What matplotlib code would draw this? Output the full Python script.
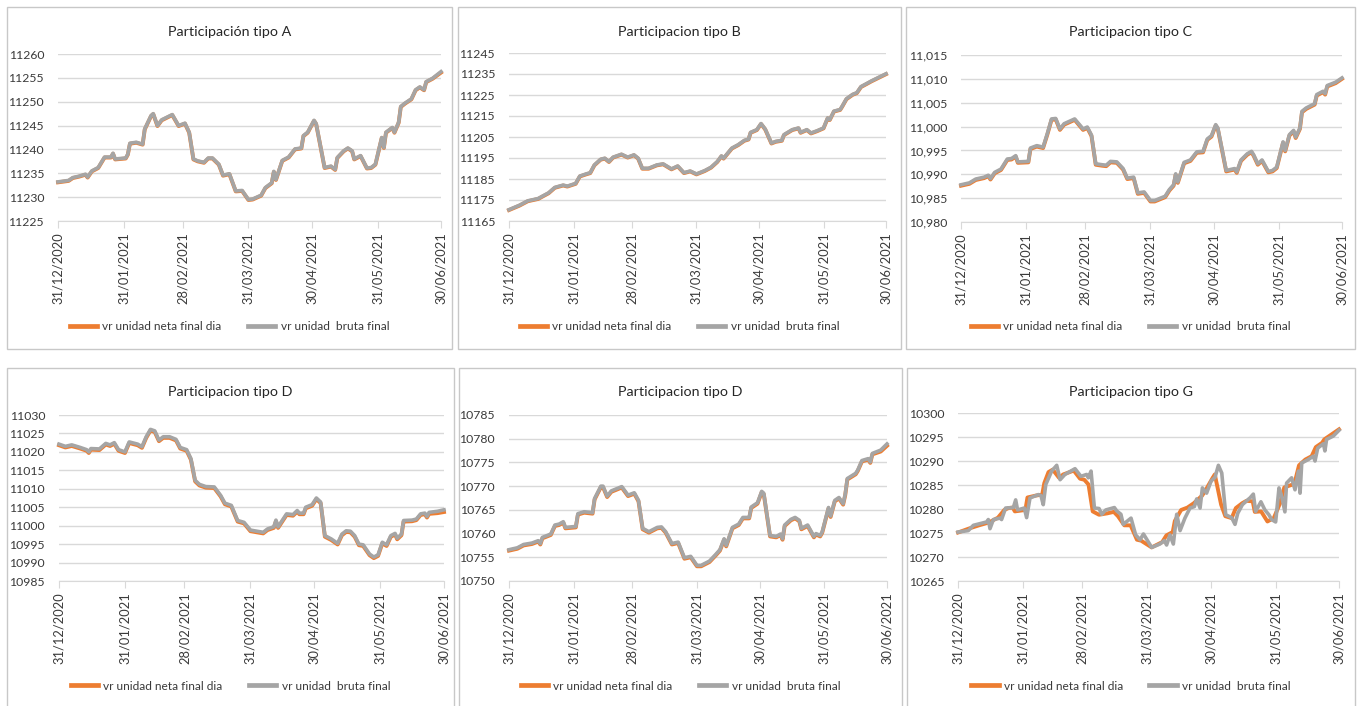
import matplotlib.pyplot as plt
from matplotlib.lines import Line2D
from matplotlib.patches import Rectangle

# dias contados desde el 31/12/2020
ticks_dias = [0, 31, 59, 90, 120, 151, 181]
ticks_fechas = ['31/12/2020', '31/01/2021', '28/02/2021', '31/03/2021',
                '30/04/2021', '31/05/2021', '30/06/2021']

# ---- Participacion tipo A
dias_a = [0, 5, 7, 10, 13, 14, 16, 19, 22, 25,
          26, 27, 32, 33, 34, 37, 40, 41, 44, 45,
          47, 49, 54, 57, 60, 62, 64, 66, 69, 71,
          73, 76, 78, 81, 84, 87, 90, 92, 96, 98,
          101, 102, 103, 106, 109, 112, 115, 116, 118, 121,
          122, 126, 129, 131, 132, 135, 137, 139, 140, 143,
          146, 148, 150, 153, 154, 155, 158, 159, 161, 162,
          164, 167, 169, 171, 173, 174, 177, 181]
bruta_a = [11233.2, 11233.5, 11234.1, 11234.4, 11234.8, 11234.2, 11235.5, 11236.2, 11238.4, 11238.4,
           11239.2, 11238.0, 11238.2, 11239.0, 11241.3, 11241.5, 11241.1, 11244.3, 11247.1, 11247.5,
           11245.0, 11246.2, 11247.3, 11245.0, 11245.5, 11243.6, 11238.0, 11237.6, 11237.3, 11238.2,
           11238.2, 11236.9, 11234.6, 11234.9, 11231.3, 11231.4, 11229.5, 11229.6, 11230.4, 11232.0,
           11233.0, 11235.4, 11233.7, 11237.7, 11238.4, 11240.1, 11240.3, 11242.9, 11243.6, 11246.1,
           11245.4, 11236.2, 11236.5, 11235.8, 11238.3, 11239.7, 11240.3, 11239.7, 11238.0, 11238.7,
           11236.1, 11236.2, 11236.9, 11242.5, 11240.4, 11243.6, 11244.6, 11243.6, 11245.7, 11249.0,
           11249.7, 11250.6, 11252.5, 11253.1, 11252.5, 11254.2, 11254.9, 11256.3]
neta_a = [11233.1, 11233.4, 11234.0, 11234.3, 11234.7, 11234.1, 11235.4, 11236.1, 11238.3, 11238.3,
          11239.1, 11237.9, 11238.1, 11238.9, 11241.2, 11241.4, 11241.0, 11244.2, 11247.0, 11247.4,
          11244.9, 11246.1, 11247.2, 11244.9, 11245.4, 11243.5, 11237.9, 11237.5, 11237.2, 11238.1,
          11238.1, 11236.8, 11234.5, 11234.8, 11231.2, 11231.3, 11229.4, 11229.5, 11230.3, 11231.9,
          11232.9, 11235.3, 11233.6, 11237.6, 11238.3, 11240.0, 11240.2, 11242.8, 11243.5, 11246.0,
          11245.3, 11236.1, 11236.4, 11235.7, 11238.2, 11239.6, 11240.2, 11239.6, 11237.9, 11238.6,
          11236.0, 11236.1, 11236.8, 11242.4, 11240.3, 11243.5, 11244.5, 11243.5, 11245.6, 11248.9,
          11249.6, 11250.5, 11252.4, 11253.0, 11252.4, 11254.1, 11254.8, 11256.1]
yticks_a = [11225, 11230, 11235, 11240, 11245, 11250, 11255, 11260]

# ---- Participacion tipo B
dias_b = [0, 5, 9, 14, 16, 19, 22, 26, 28, 32,
          34, 37, 39, 41, 44, 46, 48, 50, 54, 57,
          60, 62, 64, 67, 71, 74, 78, 81, 84, 87,
          90, 94, 97, 100, 102, 103, 107, 110, 113, 115,
          116, 119, 121, 123, 126, 128, 131, 132, 136, 139,
          140, 143, 145, 148, 151, 153, 154, 156, 159, 160,
          162, 165, 167, 169, 172, 174, 181]
bruta_b = [11170.4, 11172.5, 11174.6, 11175.7, 11176.8, 11178.4, 11181.0, 11182.1, 11181.6, 11182.9,
           11186.4, 11187.4, 11188.0, 11191.7, 11194.4, 11194.9, 11193.3, 11195.4, 11196.8, 11195.4,
           11196.5, 11194.9, 11190.1, 11190.1, 11191.7, 11192.2, 11189.8, 11191.2, 11188.0, 11188.8,
           11187.4, 11189.0, 11190.6, 11193.3, 11196.0, 11194.9, 11199.7, 11201.3, 11203.4, 11204.0,
           11207.2, 11208.5, 11211.4, 11208.8, 11202.1, 11202.9, 11203.4, 11206.1, 11208.5, 11209.3,
           11207.2, 11208.5, 11206.9, 11208.0, 11209.3, 11214.1, 11213.3, 11217.3, 11218.1, 11219.7,
           11223.2, 11225.3, 11226.1, 11229.0, 11230.6, 11231.7, 11235.1]
neta_b = [11170.2, 11172.3, 11174.4, 11175.5, 11176.6, 11178.2, 11180.8, 11181.9, 11181.4, 11182.7,
          11186.2, 11187.2, 11187.8, 11191.5, 11194.2, 11194.7, 11193.1, 11195.2, 11196.6, 11195.2,
          11196.3, 11194.7, 11189.9, 11189.9, 11191.5, 11192.0, 11189.6, 11191.0, 11187.8, 11188.6,
          11187.2, 11188.8, 11190.4, 11193.1, 11195.8, 11194.7, 11199.5, 11201.1, 11203.2, 11203.8,
          11207.0, 11208.3, 11211.2, 11208.6, 11201.9, 11202.7, 11203.2, 11205.9, 11208.3, 11209.1,
          11207.0, 11208.3, 11206.7, 11207.8, 11209.1, 11213.9, 11213.1, 11217.1, 11217.9, 11219.5,
          11223.0, 11225.1, 11225.9, 11228.8, 11230.4, 11231.5, 11234.9]
yticks_b = [11165, 11175, 11185, 11195, 11205, 11215, 11225, 11235, 11245]

# ---- Participacion tipo C
dias_c = [0, 4, 7, 11, 13, 14, 16, 19, 22, 24,
          26, 27, 32, 33, 36, 39, 41, 43, 45, 47,
          49, 54, 58, 60, 62, 64, 67, 69, 71, 74,
          77, 79, 82, 84, 87, 90, 92, 97, 99, 101,
          102, 103, 106, 109, 112, 115, 117, 119, 121, 122,
          126, 130, 131, 133, 136, 138, 139, 141, 143, 146,
          148, 150, 153, 154, 156, 158, 159, 161, 162, 164,
          168, 169, 172, 173, 174, 178, 181]
bruta_c = [10987.8, 10988.2, 10989.0, 10989.4, 10989.8, 10989.1, 10990.4, 10991.1, 10993.2, 10993.3,
           10993.9, 10992.6, 10992.7, 10995.5, 10996.0, 10995.7, 10998.5, 11001.6, 11001.7, 10999.5,
           11000.6, 11001.6, 10999.5, 10999.9, 10998.2, 10992.2, 10992.0, 10991.9, 10992.7, 10992.6,
           10991.2, 10989.2, 10989.4, 10986.1, 10986.3, 10984.5, 10984.5, 10985.4, 10986.8, 10987.8,
           10990.1, 10988.4, 10992.5, 10993.0, 10994.7, 10994.8, 10997.4, 10998.1, 11000.4, 10999.7,
           10990.8, 10991.2, 10990.5, 10993.0, 10994.3, 10994.8, 10994.1, 10992.2, 10993.0, 10990.6,
           10990.8, 10991.5, 10996.8, 10995.0, 10998.3, 10999.2, 10997.8, 10999.7, 11003.2, 11003.9,
           11004.8, 11006.7, 11007.4, 11006.9, 11008.6, 11009.3, 11010.2]
neta_c = [10987.6, 10988.0, 10988.8, 10989.2, 10989.6, 10988.9, 10990.2, 10990.9, 10993.0, 10993.1,
          10993.7, 10992.4, 10992.5, 10995.3, 10995.8, 10995.5, 10998.3, 11001.4, 11001.5, 10999.3,
          11000.4, 11001.4, 10999.3, 10999.7, 10998.0, 10992.0, 10991.8, 10991.7, 10992.5, 10992.4,
          10991.0, 10989.0, 10989.2, 10985.9, 10986.1, 10984.3, 10984.3, 10985.2, 10986.6, 10987.6,
          10989.9, 10988.2, 10992.3, 10992.8, 10994.5, 10994.6, 10997.2, 10997.9, 11000.2, 10999.5,
          10990.6, 10991.0, 10990.3, 10992.8, 10994.1, 10994.6, 10993.9, 10992.0, 10992.8, 10990.4,
          10990.6, 10991.3, 10996.6, 10994.8, 10998.1, 10999.0, 10997.6, 10999.5, 11003.0, 11003.7,
          11004.6, 11006.5, 11007.2, 11006.7, 11008.4, 11009.1, 11010.0]
yticks_c = [10980, 10985, 10990, 10995, 11000, 11005, 11010, 11015]

# ---- Participacion tipo D (primera)
dias_d1 = [0, 3, 6, 10, 13, 14, 15, 19, 22, 24,
           26, 28, 31, 33, 37, 39, 41, 43, 45, 47,
           49, 52, 55, 57, 60, 62, 64, 66, 69, 73,
           76, 78, 81, 84, 87, 90, 93, 96, 98, 101,
           102, 103, 107, 110, 112, 113, 115, 116, 119, 121,
           123, 125, 128, 131, 133, 135, 137, 139, 141, 143,
           146, 148, 150, 152, 154, 156, 158, 159, 161, 162,
           166, 168, 170, 172, 173, 174, 178, 181]
bruta_d1 = [11022.1, 11021.5, 11021.9, 11021.2, 11020.6, 11020.0, 11020.9, 11020.8, 11022.3, 11021.9,
            11022.5, 11020.6, 11020.0, 11022.7, 11022.1, 11021.4, 11024.1, 11026.1, 11025.7, 11023.2,
            11024.1, 11024.1, 11023.4, 11021.2, 11020.6, 11018.2, 11012.3, 11011.2, 11010.6, 11010.5,
            11008.2, 11006.1, 11005.5, 11001.4, 11000.9, 10998.8, 10998.5, 10998.2, 10999.1, 10999.7,
            11001.5, 10999.7, 11003.2, 11003.0, 11004.1, 11003.4, 11003.4, 11005.0, 11005.7, 11007.5,
            11006.4, 10997.3, 10996.4, 10995.2, 10997.7, 10998.6, 10998.5, 10997.3, 10995.0, 10994.8,
            10992.3, 10991.5, 10992.1, 10995.5, 10994.8, 10997.3, 10997.9, 10996.6, 10997.7, 11001.4,
            11001.5, 11001.8, 11003.2, 11003.4, 11002.5, 11003.6, 11003.9, 11004.3]
neta_d1 = [11021.8, 11021.2, 11021.6, 11020.9, 11020.3, 11019.7, 11020.6, 11020.5, 11022.0, 11021.6,
           11022.2, 11020.3, 11019.7, 11022.4, 11021.8, 11021.1, 11023.8, 11025.8, 11025.4, 11022.9,
           11023.8, 11023.8, 11023.1, 11020.9, 11020.3, 11017.9, 11012.0, 11010.9, 11010.3, 11010.2,
           11007.9, 11005.8, 11005.2, 11001.1, 11000.6, 10998.5, 10998.2, 10997.9, 10998.8, 10999.4,
           11001.2, 10999.4, 11002.9, 11002.7, 11003.8, 11003.1, 11003.1, 11004.7, 11005.4, 11007.2,
           11006.1, 10997.0, 10996.1, 10994.9, 10997.4, 10998.3, 10998.2, 10997.0, 10994.7, 10994.5,
           10992.0, 10991.2, 10991.8, 10995.2, 10994.5, 10997.0, 10997.6, 10996.3, 10997.4, 11001.1,
           11001.2, 11001.5, 11002.9, 11003.1, 11002.2, 11003.2, 11003.4, 11003.7]
yticks_d1 = [10985, 10990, 10995, 11000, 11005, 11010, 11015, 11020, 11025, 11030]

# ---- Participacion tipo D (segunda)
dias_d2 = [0, 4, 7, 11, 14, 15, 16, 20, 22, 24,
           26, 27, 32, 33, 36, 40, 41, 44, 45, 47,
           49, 54, 57, 60, 62, 64, 67, 71, 73, 75,
           78, 81, 84, 87, 90, 92, 96, 99, 101, 103,
           104, 107, 110, 112, 115, 116, 119, 121, 122, 125,
           128, 130, 131, 132, 135, 137, 139, 140, 143, 146,
           147, 149, 150, 153, 154, 156, 158, 160, 161, 162,
           166, 167, 169, 172, 173, 174, 178, 181]
bruta_d2 = [10756.6, 10757.0, 10757.7, 10758.0, 10758.5, 10757.9, 10759.2, 10759.9, 10761.8, 10762.0,
            10762.5, 10761.3, 10761.5, 10764.2, 10764.6, 10764.4, 10767.4, 10770.0, 10770.0, 10767.9,
            10769.0, 10769.9, 10768.1, 10768.6, 10767.0, 10761.1, 10760.4, 10761.3, 10761.4, 10760.4,
            10757.9, 10758.2, 10754.9, 10755.2, 10753.3, 10753.3, 10754.2, 10755.6, 10756.6, 10758.9,
            10757.5, 10761.3, 10762.0, 10763.4, 10763.4, 10765.6, 10766.5, 10768.9, 10768.5, 10759.6,
            10759.4, 10759.9, 10758.9, 10761.8, 10763.0, 10763.4, 10762.8, 10761.1, 10761.8, 10759.4,
            10760.0, 10759.6, 10760.4, 10765.5, 10763.7, 10767.0, 10767.6, 10766.3, 10768.3, 10771.6,
            10772.7, 10773.4, 10775.4, 10775.8, 10775.1, 10776.9, 10777.6, 10778.9]
neta_d2 = [10756.4, 10756.8, 10757.5, 10757.8, 10758.3, 10757.7, 10759.0, 10759.7, 10761.6, 10761.8,
           10762.3, 10761.1, 10761.3, 10764.0, 10764.4, 10764.2, 10767.2, 10769.8, 10769.8, 10767.7,
           10768.8, 10769.7, 10767.9, 10768.4, 10766.8, 10760.9, 10760.2, 10761.1, 10761.2, 10760.2,
           10757.7, 10758.0, 10754.7, 10755.0, 10753.1, 10753.1, 10754.0, 10755.4, 10756.4, 10758.7,
           10757.3, 10761.1, 10761.8, 10763.2, 10763.2, 10765.4, 10766.3, 10768.7, 10768.3, 10759.4,
           10759.2, 10759.7, 10758.7, 10761.6, 10762.8, 10763.2, 10762.6, 10760.9, 10761.6, 10759.2,
           10759.8, 10759.4, 10760.2, 10765.3, 10763.5, 10766.8, 10767.4, 10766.1, 10768.1, 10771.4,
           10772.5, 10773.2, 10775.2, 10775.6, 10774.9, 10776.7, 10777.3, 10778.5]
yticks_d2 = [10750, 10755, 10760, 10765, 10770, 10775, 10780, 10785]

# ---- Participacion tipo G
dias_g_neta = [0, 5, 10, 14, 16, 19, 22, 24, 26, 27,
               32, 33, 37, 40, 41, 43, 45, 48, 50, 55,
               58, 60, 62, 64, 67, 71, 74, 76, 79, 82,
               85, 87, 92, 97, 99, 102, 103, 106, 109, 112,
               113, 116, 118, 121, 122, 125, 127, 130, 132, 135,
               137, 140, 141, 144, 147, 150, 153, 155, 159, 160,
               162, 165, 168, 170, 173, 174, 181]
neta_g = [10275.1, 10275.9, 10276.6, 10277.1, 10277.5, 10278.2, 10279.8, 10280.2, 10280.3, 10279.5,
          10279.8, 10282.4, 10282.8, 10283.0, 10285.4, 10287.7, 10288.2, 10286.5, 10287.2, 10288.0,
          10286.3, 10286.1, 10285.1, 10279.5, 10278.8, 10279.1, 10279.4, 10278.5, 10276.6, 10276.6,
          10273.6, 10273.4, 10272.0, 10273.1, 10274.5, 10275.2, 10277.5, 10279.8, 10280.3, 10281.2,
          10281.6, 10282.8, 10284.2, 10286.5, 10287.2, 10280.9, 10278.5, 10278.1, 10280.2, 10281.2,
          10281.7, 10281.6, 10279.4, 10279.5, 10277.4, 10278.1, 10281.2, 10284.5, 10285.1, 10285.6,
          10289.1, 10290.3, 10291.0, 10292.9, 10293.8, 10294.5, 10296.6]
dias_g_bruta = [0, 4.9, 7.3, 13.6, 14.4, 15.2, 16.8, 20.0, 20.7, 22.6,
                26.3, 27.4, 28.3, 31.5, 32.6, 34.2, 38.2, 39.4, 40.5, 41.7,
                44.5, 46.9, 48.5, 50.8, 55.6, 58.4, 61.1, 61.9, 63.2, 64.8,
                67.0, 68.3, 70.2, 74.3, 75.4, 77.4, 78.5, 82.2, 84.4, 86.5,
                88.1, 92.0, 95.9, 98.0, 99.1, 100.7, 102.3, 103.9, 105.5, 107.8,
                110.2, 112.3, 113.4, 115.0, 116.1, 118.1, 120.2, 122.1, 123.7, 125.3,
                127.2, 130.0, 131.6, 132.9, 135.1, 137.6, 138.7, 140.3, 141.4, 143.9,
                145.8, 147.7, 149.0, 150.9, 152.5, 153.7, 155.3, 156.1, 158.5, 160.1,
                161.7, 162.5, 163.3, 166.4, 168.8, 169.6, 170.9, 173.6, 174.3, 175.1,
                178.3, 181.0]
bruta_g = [10275.2, 10275.5, 10276.6, 10277.3, 10277.8, 10275.9, 10277.8, 10278.1, 10277.8, 10280.2,
           10280.3, 10281.9, 10279.8, 10280.2, 10278.2, 10282.3, 10283.0, 10282.8, 10280.9, 10285.1,
           10287.9, 10289.1, 10286.1, 10287.2, 10288.4, 10286.8, 10287.2, 10286.5, 10287.9, 10280.2,
           10280.1, 10278.9, 10279.8, 10280.3, 10279.6, 10278.9, 10276.8, 10278.1, 10274.6, 10273.6,
           10274.8, 10272.0, 10272.7, 10273.4, 10272.5, 10274.6, 10272.7, 10278.9, 10275.5, 10278.1,
           10280.2, 10280.5, 10282.1, 10280.2, 10284.4, 10283.3, 10285.8, 10286.6, 10289.1, 10287.5,
           10278.8, 10278.2, 10276.8, 10279.1, 10280.9, 10281.9, 10282.3, 10283.1, 10279.5, 10281.5,
           10279.8, 10278.8, 10277.8, 10277.3, 10284.4, 10282.8, 10279.4, 10285.4, 10286.5, 10284.0,
           10287.9, 10283.3, 10289.6, 10290.3, 10291.0, 10290.0, 10292.7, 10293.6, 10292.1, 10294.5,
           10295.2, 10296.4]
yticks_g = [10265, 10270, 10275, 10280, 10285, 10290, 10295, 10300]

W, H = 1357, 706
NARANJA = '#ED7D31'
GRIS = '#A5A5A5'
TEXTO = '#3A3A3A'
REJILLA = '#D9D9D9'

plt.rcParams['font.family'] = ['Lato', 'DejaVu Sans']
fig = plt.figure(figsize=(W / 100, H / 100), dpi=100)


def panel(caja, area, y_titulo, y_leyenda, titulo, yticks, etiquetas,
          dias_n, neta, dias_br, bruta):
    x0, y0, x1, y1 = caja
    fig.patches.append(Rectangle((x0 / W, 1 - y1 / H), (x1 - x0) / W, (y1 - y0) / H,
                                 transform=fig.transFigure, fill=False,
                                 edgecolor='#C8C8C8', lw=1))
    l, t, r, b = area
    ax = fig.add_axes([l / W, 1 - b / H, (r - l) / W, (b - t) / H])
    ax.plot(dias_n, neta, color=NARANJA, lw=2.8, clip_on=False, zorder=3)
    ax.plot(dias_br, bruta, color=GRIS, lw=2.6, clip_on=False, zorder=4)
    ax.set_xlim(0, 181)
    ax.set_ylim(yticks[0], yticks[-1])
    ax.set_yticks(yticks)
    ax.set_yticklabels(etiquetas)
    ax.set_xticks(ticks_dias)
    ax.set_xticklabels(ticks_fechas, rotation=90)
    ax.grid(axis='y', color=REJILLA, lw=1)
    ax.set_axisbelow(True)
    for s in ['top', 'right', 'left']:
        ax.spines[s].set_visible(False)
    ax.spines['bottom'].set_color(REJILLA)
    ax.tick_params(axis='y', length=0, pad=10, labelsize=8.8, labelcolor=TEXTO)
    ax.tick_params(axis='x', length=5, color=REJILLA, pad=3, labelsize=9.3,
                   labelcolor=TEXTO)
    cx = (x0 + x1) / 2 / W
    fig.text(cx, 1 - y_titulo / H, titulo, ha='center', va='center',
             fontsize=10.3, color='#262626')
    handles = [Line2D([], [], color=NARANJA, lw=3.4),
               Line2D([], [], color=GRIS, lw=3.4)]
    fig.legend(handles, ['vr unidad neta final dia', 'vr unidad  bruta final'],
               loc='center', bbox_to_anchor=(cx, 1 - y_leyenda / H), ncol=2,
               frameon=False, fontsize=8.6, handlelength=2.3, handletextpad=0.45,
               columnspacing=2.2, labelcolor=TEXTO)


def enteros(v):
    return [str(x) for x in v]


def miles(v):
    return [f'{x:,}' for x in v]


panel((7, 7, 452, 349), (58, 54, 441, 221), 32, 327, 'Participación tipo A',
      yticks_a, enteros(yticks_a), dias_a, neta_a, dias_a, bruta_a)
panel((458, 7, 901, 349), (509, 53, 886, 221), 32, 327, 'Participacion tipo B',
      yticks_b, enteros(yticks_b), dias_b, neta_b, dias_b, bruta_b)
panel((906, 7, 1355, 349), (961, 55, 1342, 222), 32, 327, 'Participacion tipo C',
      yticks_c, miles(yticks_c), dias_c, neta_c, dias_c, bruta_c)
panel((7, 368, 454, 712), (59, 415, 444, 581), 392, 686, 'Participacion tipo D',
      yticks_d1, enteros(yticks_d1), dias_d1, neta_d1, dias_d1, bruta_d1)
panel((459, 368, 902, 712), (509, 415, 887, 581), 392, 686, 'Participacion tipo D',
      yticks_d2, enteros(yticks_d2), dias_d2, neta_d2, dias_d2, bruta_d2)
panel((907, 368, 1355, 712), (958, 413, 1339, 581), 392, 686, 'Participacion tipo G',
      yticks_g, enteros(yticks_g), dias_g_neta, neta_g, dias_g_bruta, bruta_g)

fig.savefig('out.png', dpi=100)
